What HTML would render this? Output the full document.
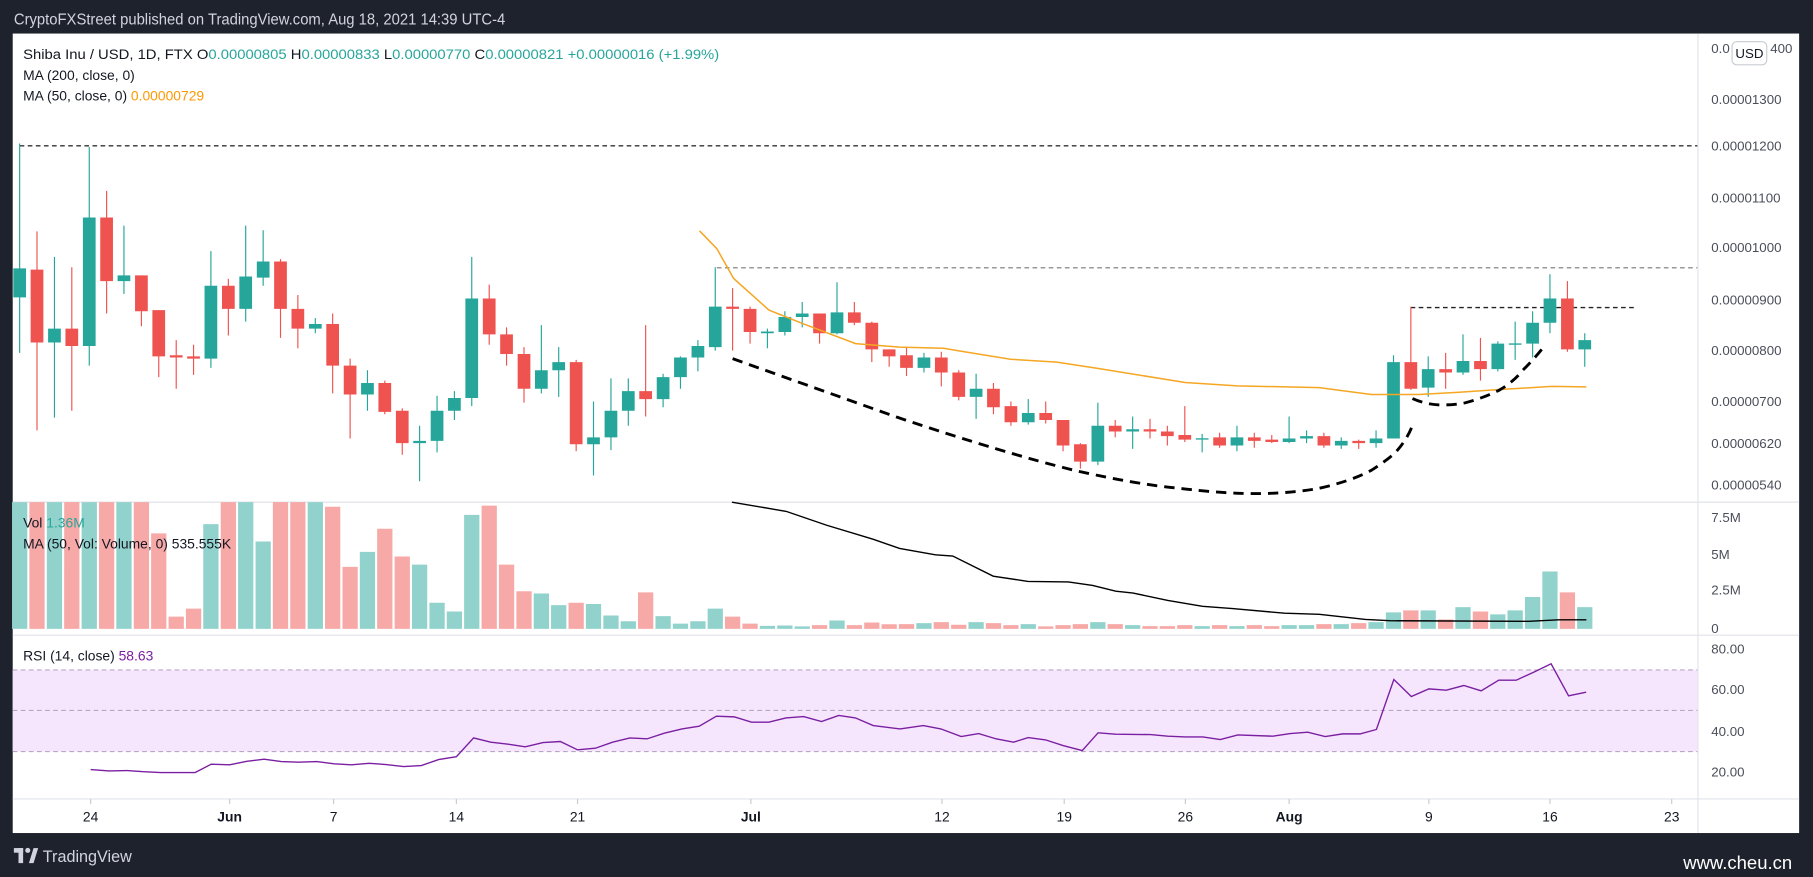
<!DOCTYPE html>
<html><head><meta charset="utf-8"><style>
html,body{margin:0;padding:0;background:#1e222d;overflow:hidden}
svg{display:block}
text{font-family:"Liberation Sans",sans-serif}
.ax{font-size:11.5px;fill:#4a4e59}
.xl{font-size:12px;fill:#131722;text-anchor:middle}
</style></head><body>
<svg width="1813" height="877" viewBox="0 0 1568 758" preserveAspectRatio="none" xmlns="http://www.w3.org/2000/svg">
<rect x="0" y="0" width="1568" height="758" fill="#1e222d"/>
<rect x="11" y="29" width="1545" height="691" fill="#ffffff"/>
<text x="12" y="21" font-size="13.5" fill="#d1d4dc" textLength="425" lengthAdjust="spacingAndGlyphs">CryptoFXStreet published on TradingView.com, Aug 18, 2021 14:39 UTC-4</text>

<line x1="11" y1="434" x2="1556" y2="434" stroke="#e0e3eb"/>
<line x1="11" y1="549" x2="1556" y2="549" stroke="#e0e3eb"/>
<line x1="11" y1="690.5" x2="1556" y2="690.5" stroke="#e0e3eb"/>
<line x1="1468.5" y1="29" x2="1468.5" y2="720" stroke="#e0e3eb"/>

<rect x="11" y="579" width="1457" height="70.6" fill="#f5e6fd"/>
<g stroke="#b8a7c4" stroke-dasharray="4 3" stroke-width="1">
<line x1="11" y1="579" x2="1468" y2="579"/>
<line x1="11" y1="614" x2="1468" y2="614"/>
<line x1="11" y1="649.6" x2="1468" y2="649.6"/>
</g>

<line x1="17" y1="126" x2="1468" y2="126" stroke="#333" stroke-dasharray="4 3" stroke-width="1.2"/>
<line x1="620" y1="231.5" x2="1468" y2="231.5" stroke="#777" stroke-dasharray="4 3" stroke-width="1"/>
<line x1="1220" y1="265.8" x2="1416" y2="265.8" stroke="#222" stroke-dasharray="4 3" stroke-width="1.2"/>

<!-- volume -->
<path fill="#92d2cc" d="M10.4 434h13.2V543.5h-13.2zM40.5 434h13.2V543.5h-13.2zM70.6 434h13.2V543.5h-13.2zM100.6 434h13.2V543.5h-13.2zM175.8 453h13.2V543.5h-13.2zM205.9 434h13.2V543.5h-13.2zM221 468h13.2V543.5h-13.2zM266.1 434h13.2V543.5h-13.2zM311.2 477h13.2V543.5h-13.2zM356.3 488h13.2V543.5h-13.2zM371.4 521h13.2V543.5h-13.2zM386.4 528.5h13.2V543.5h-13.2zM401.4 445h13.2V543.5h-13.2zM461.6 513h13.2V543.5h-13.2zM476.6 523h13.2V543.5h-13.2zM506.7 522h13.2V543.5h-13.2zM521.8 532h13.2V543.5h-13.2zM536.8 537h13.2V543.5h-13.2zM566.9 532.5h13.2V543.5h-13.2zM581.9 539h13.2V543.5h-13.2zM597 537h13.2V543.5h-13.2zM612 526h13.2V543.5h-13.2zM657.1 541h13.2V543.5h-13.2zM672.2 540.6h13.2V543.5h-13.2zM687.2 541.4h13.2V543.5h-13.2zM717.3 536.3h13.2V543.5h-13.2zM792.5 538.6h13.2V543.5h-13.2zM837.6 537.7h13.2V543.5h-13.2zM882.7 539.4h13.2V543.5h-13.2zM942.9 537.7h13.2V543.5h-13.2zM973 540.3h13.2V543.5h-13.2zM1033.1 541.2h13.2V543.5h-13.2zM1063.2 541.2h13.2V543.5h-13.2zM1108.3 540.3h13.2V543.5h-13.2zM1123.4 540.3h13.2V543.5h-13.2zM1153.4 539.4h13.2V543.5h-13.2zM1183.5 537.7h13.2V543.5h-13.2zM1198.6 529.3h13.2V543.5h-13.2zM1228.6 527.6h13.2V543.5h-13.2zM1258.7 524.7h13.2V543.5h-13.2zM1288.8 531h13.2V543.5h-13.2zM1303.8 527.6h13.2V543.5h-13.2zM1318.9 516h13.2V543.5h-13.2zM1333.9 494h13.2V543.5h-13.2zM1364 524.7h13.2V543.5h-13.2z"/>
<path fill="#f7a9a7" d="M25.4 434h13.2V543.5h-13.2zM55.5 434h13.2V543.5h-13.2zM85.6 434h13.2V543.5h-13.2zM115.7 434h13.2V543.5h-13.2zM130.7 461h13.2V543.5h-13.2zM145.8 533h13.2V543.5h-13.2zM160.8 526h13.2V543.5h-13.2zM190.9 434h13.2V543.5h-13.2zM236 434h13.2V543.5h-13.2zM251 434h13.2V543.5h-13.2zM281.1 438h13.2V543.5h-13.2zM296.2 490h13.2V543.5h-13.2zM326.2 457h13.2V543.5h-13.2zM341.3 481h13.2V543.5h-13.2zM416.5 437h13.2V543.5h-13.2zM431.5 488h13.2V543.5h-13.2zM446.6 511h13.2V543.5h-13.2zM491.7 521h13.2V543.5h-13.2zM551.8 512h13.2V543.5h-13.2zM627 533h13.2V543.5h-13.2zM642.1 539h13.2V543.5h-13.2zM702.2 540.3h13.2V543.5h-13.2zM732.3 540.3h13.2V543.5h-13.2zM747.4 538h13.2V543.5h-13.2zM762.4 539.5h13.2V543.5h-13.2zM777.4 539.4h13.2V543.5h-13.2zM807.5 537.7h13.2V543.5h-13.2zM822.6 540h13.2V543.5h-13.2zM852.6 538.6h13.2V543.5h-13.2zM867.7 540.3h13.2V543.5h-13.2zM897.8 541.4h13.2V543.5h-13.2zM912.8 540.3h13.2V543.5h-13.2zM927.8 539.4h13.2V543.5h-13.2zM957.9 539.4h13.2V543.5h-13.2zM988 541.2h13.2V543.5h-13.2zM1003 541.2h13.2V543.5h-13.2zM1018.1 540.3h13.2V543.5h-13.2zM1048.2 540.3h13.2V543.5h-13.2zM1078.2 540.3h13.2V543.5h-13.2zM1093.3 541.2h13.2V543.5h-13.2zM1138.4 539.4h13.2V543.5h-13.2zM1168.5 538.6h13.2V543.5h-13.2zM1213.6 527.6h13.2V543.5h-13.2zM1243.7 535.4h13.2V543.5h-13.2zM1273.8 528.5h13.2V543.5h-13.2zM1349 512h13.2V543.5h-13.2z"/>

<!-- candles green -->
<path stroke="#26a69a" stroke-width="1" fill="none" d="M17 124V305M47.1 222V361M77.2 127V316M107.2 195V254M182.4 217V318M212.5 195V278M227.6 199V247M272.7 275V288M317.8 320V355M362.9 368V416M378 342V391M393 338V363M408 222V351M468.2 281V340M483.2 300V343M513.3 347V411M528.4 327V389M543.4 327V368M573.5 323V352M588.5 308V336M603.6 294V321M618.6 231V303M663.7 284V301M678.8 269V290M693.8 261V283M723.9 244V289M799.1 305V322M844.2 323V362M889.3 345V367M949.5 348V402M979.6 360V388M1039.7 375V391M1069.8 368V390M1114.9 360V383M1130 372V383M1160 378V388M1190.1 372V387M1205.2 307V379M1235.2 308V343M1265.3 289V324M1295.4 295V321M1310.4 278V311M1325.5 269V309M1340.5 237V288M1370.6 288V317"/>
<path fill="#26a69a" d="M11.5 232h11V257h-11zM41.6 284h11V296h-11zM71.7 188h11V299h-11zM101.7 238h11V243h-11zM176.9 247h11V310h-11zM207 239h11V267h-11zM222.1 226h11V240h-11zM267.2 280h11V284h-11zM312.3 331h11V341h-11zM357.4 381h11V383h-11zM372.5 355h11V381h-11zM387.5 344h11V355h-11zM402.5 258h11V344h-11zM462.7 320h11V336h-11zM477.7 313h11V320h-11zM507.8 378h11V384h-11zM522.9 355h11V378h-11zM537.9 338h11V355h-11zM568 326h11V345h-11zM583 309h11V326h-11zM598.1 299h11V309h-11zM613.1 265h11V300h-11zM658.2 286.5h11V288h-11zM673.3 274h11V287h-11zM688.3 271h11V274h-11zM718.4 270h11V288h-11zM793.6 309h11V318h-11zM838.7 336h11V343h-11zM883.8 357h11V365h-11zM944 368h11V399h-11zM974.1 371h11V373h-11zM1034.2 378.8h11V380h-11zM1064.3 378h11V385h-11zM1109.4 379h11V382h-11zM1124.5 377h11V379h-11zM1154.5 381h11V385h-11zM1184.6 379h11V383h-11zM1199.7 313h11V379h-11zM1229.7 319h11V335h-11zM1259.8 312h11V322h-11zM1289.9 297h11V319h-11zM1304.9 296.8h11V298h-11zM1320 279h11V297h-11zM1335 258h11V279h-11zM1365.1 294h11V302h-11z"/>
<!-- candles red -->
<path stroke="#ef5350" stroke-width="1" fill="none" d="M32 200V372M62.1 231V355M92.2 165V271M122.3 238V282M137.3 268V326M152.4 294V336M167.4 298V324M197.5 241V290M242.6 224V292M257.6 255V301M287.7 271V340M302.8 310V379M332.8 329V358M347.9 353V393M423.1 246V298M438.1 283V316M453.2 300V348M498.3 311V390M558.4 281V360M633.6 249V303M648.7 265V297M708.8 271V297M738.9 261V281M754 278V313M769 302V317M784 300V325M814.1 304V334M829.2 320V346M859.2 331V358M874.3 347V368M904.4 347V366M919.4 363V390M934.4 383V405M964.5 363V378M994.6 362V379M1009.6 368V385M1024.7 351V382M1054.8 374V387M1084.8 374V387M1099.9 376V383M1145 374V387M1175.1 380V388M1220.2 265V337M1250.3 305V336M1280.4 292V329M1355.6 243V304"/>
<path fill="#ef5350" d="M26.5 233h11V296h-11zM56.6 284h11V299h-11zM86.7 188h11V243h-11zM116.8 238h11V269h-11zM131.8 268h11V308h-11zM146.9 307h11V309h-11zM161.9 308h11V310h-11zM192 247h11V267h-11zM237.1 226h11V267h-11zM252.1 267h11V284h-11zM282.2 280h11V316h-11zM297.3 316h11V341h-11zM327.3 331h11V356h-11zM342.4 355h11V383h-11zM417.6 258h11V289h-11zM432.6 289h11V306h-11zM447.7 306h11V336h-11zM492.8 313h11V384h-11zM552.9 338h11V345h-11zM628.1 265h11V267h-11zM643.2 267h11V287h-11zM703.3 271h11V288h-11zM733.4 270h11V279h-11zM748.5 279h11V302h-11zM763.5 302h11V308h-11zM778.5 307h11V318h-11zM808.6 309h11V322h-11zM823.7 322h11V343h-11zM853.7 336h11V352h-11zM868.8 351h11V365h-11zM898.9 357h11V363h-11zM913.9 363h11V385h-11zM928.9 384h11V399h-11zM959 368h11V373h-11zM989.1 371h11V373h-11zM1004.1 373h11V377h-11zM1019.2 376h11V380h-11zM1049.3 378h11V385h-11zM1079.3 378h11V381h-11zM1094.4 380h11V382h-11zM1139.5 377h11V385h-11zM1169.6 381h11V383h-11zM1214.7 313h11V336h-11zM1244.8 319h11V322h-11zM1274.9 312h11V319h-11zM1350.1 258h11V302h-11z"/>

<polyline fill="none" stroke="#f5a623" stroke-width="1.3" points="605,199.5 620,215 634.5,240.7 665,268 695,280 740,297 778,300 816,301 834,304 874,310.5 914,313 950,318.5 1025,330.6 1070,333.5 1141,335 1186,341 1227,341 1262,339 1292,337 1342,334 1372,334.4"/>

<path fill="none" stroke="#000" stroke-width="2.5" stroke-dasharray="9 6" d="M633.6,310 L777,361 Q870,392 929,406.5 Q985,419 1020,422 Q1060,427 1091,426.6 Q1120,426 1141,422 Q1168,416 1186,406.5 Q1198,399 1206.5,391.5 Q1217,380 1221.6,367.6"/>
<path fill="none" stroke="#000" stroke-width="2.5" stroke-dasharray="9 6" d="M1221.6,344.5 Q1234,350 1247,350 Q1258,350 1267,348.2 Q1283,344 1297,337 Q1309,330 1317,320 Q1327,310 1335,300"/>

<polyline fill="none" stroke="#000" stroke-width="1.2" points="633,434 680,442 715,454 755,466 778,474 809,479.5 824,480.6 859,498 889,502.5 924,503 945,506 965,511 980,512.6 1010,519 1040,524 1066,526 1111,530 1141,531 1181,535.4 1202,536.5 1322,537 1348,535.7 1372,535.7"/>

<polyline fill="none" stroke="#7b1fa2" stroke-width="1.2" points="78.4,665.1 94.3,666.3 110,666 124,667 139,667.7 168.8,667.7 182.7,660.5 198.6,661 213.5,658 228.4,656.2 243.3,658.2 258.2,658.8 274,658.2 289,660.2 303.9,661 319.2,659.7 334,660.8 349,662.5 364.4,661.7 379.3,656.5 394.7,654 409.6,637.8 424.5,641.5 439.4,643.2 454.3,645.5 469.7,641.8 484.6,640.9 499.5,648.1 514.9,646.7 529.8,641.5 544.7,637.8 559.6,638.6 574.5,633.7 589.8,630 604.7,627.7 619.6,619 635,619.6 650,624.2 664.8,624.2 679.7,620.5 695,619.3 710.5,623.6 725.4,618.4 739.8,620.5 755.2,627.1 778.4,630 798.5,627.1 813.7,630 831.3,636.6 846.4,634 861.5,638.6 876.6,641.5 889.2,637.5 904.3,639.5 919.4,644.4 936,648.7 949.7,633.4 964.8,634.6 995,634.9 1010,636.3 1025.2,636.9 1040.3,636.9 1055.4,639.2 1070.5,635.2 1100.8,636.3 1115.9,634 1131,632.8 1146.1,636.6 1161.2,634.3 1176.3,634.3 1190.4,630.5 1205.5,587.3 1220.6,602 1235.8,595.4 1250.9,596.5 1266,592.5 1281,597.1 1296.2,587.9 1311.3,587.9 1326.4,581 1341.5,573.7 1356.6,601.4 1371.8,598.3"/>

<text x="20" y="51" font-size="12" fill="#131722" textLength="602" lengthAdjust="spacingAndGlyphs">Shiba Inu / USD, 1D, FTX  O<tspan fill="#26a69a">0.00000805</tspan>  H<tspan fill="#26a69a">0.00000833</tspan>  L<tspan fill="#26a69a">0.00000770</tspan>  C<tspan fill="#26a69a">0.00000821</tspan>  <tspan fill="#26a69a">+0.00000016 (+1.99%)</tspan></text>
<text x="20" y="69" font-size="12" fill="#131722">MA (200, close, 0)</text>
<text x="20" y="87" font-size="12" fill="#131722">MA (50, close, 0)  <tspan fill="#ff9800">0.00000729</tspan></text>
<text x="20" y="456" font-size="12" fill="#131722">Vol  <tspan fill="#26a69a">1.36M</tspan></text>
<text x="20" y="474" font-size="12" fill="#131722">MA (50, Vol: Volume, 0)  535.555K</text>
<text x="20" y="571" font-size="12" fill="#131722">RSI (14, close)  <tspan fill="#7b1fa2">58.63</tspan></text>

<g class="ax">
<text x="1480" y="46">0.0</text>
<text x="1531" y="46">400</text>
<text x="1480" y="90">0.00001300</text>
<text x="1480" y="130">0.00001200</text>
<text x="1480" y="175">0.00001100</text>
<text x="1480" y="218">0.00001000</text>
<text x="1480" y="263">0.00000900</text>
<text x="1480" y="307">0.00000800</text>
<text x="1480" y="351">0.00000700</text>
<text x="1480" y="387">0.00000620</text>
<text x="1480" y="423">0.00000540</text>
<text x="1480" y="451">7.5M</text>
<text x="1480" y="483">5M</text>
<text x="1480" y="514">2.5M</text>
<text x="1480" y="547">0</text>
<text x="1480" y="565">80.00</text>
<text x="1480" y="600">60.00</text>
<text x="1480" y="636">40.00</text>
<text x="1480" y="671">20.00</text>
</g>
<rect x="1498" y="36" width="30" height="20" rx="4" fill="#fff" stroke="#c8cbd3"/>
<text x="1513" y="50" font-size="11.5" fill="#131722" text-anchor="middle">USD</text>

<g stroke="#c8cbd3">
<line x1="78.4" y1="690.5" x2="78.4" y2="695"/><line x1="198.6" y1="690.5" x2="198.6" y2="695"/><line x1="288.5" y1="690.5" x2="288.5" y2="695"/><line x1="394.7" y1="690.5" x2="394.7" y2="695"/><line x1="499.5" y1="690.5" x2="499.5" y2="695"/><line x1="649.4" y1="690.5" x2="649.4" y2="695"/><line x1="814.7" y1="690.5" x2="814.7" y2="695"/><line x1="920.4" y1="690.5" x2="920.4" y2="695"/><line x1="1025.2" y1="690.5" x2="1025.2" y2="695"/><line x1="1114.9" y1="690.5" x2="1114.9" y2="695"/><line x1="1235.8" y1="690.5" x2="1235.8" y2="695"/><line x1="1340.5" y1="690.5" x2="1340.5" y2="695"/><line x1="1445.8" y1="690.5" x2="1445.8" y2="695"/>
</g>
<g class="xl">
<text x="78.4" y="710">24</text><text x="198.6" y="710" font-weight="bold">Jun</text><text x="288.5" y="710">7</text><text x="394.7" y="710">14</text><text x="499.5" y="710">21</text><text x="649.4" y="710" font-weight="bold">Jul</text><text x="814.7" y="710">12</text><text x="920.4" y="710">19</text><text x="1025.2" y="710">26</text><text x="1114.9" y="710" font-weight="bold">Aug</text><text x="1235.8" y="710">9</text><text x="1340.5" y="710">16</text><text x="1445.8" y="710">23</text>
</g>

<rect x="12" y="733" width="8" height="4" fill="#d1d4dc"/><rect x="16" y="733" width="4" height="13" fill="#d1d4dc"/><circle cx="24" cy="735" r="2.2" fill="#d1d4dc"/><path d="M25,746 L29,733 L33,733 L29,746 Z" fill="#d1d4dc"/>
<text x="37" y="745" font-size="14" fill="#d1d4dc">TradingView</text>
<text x="1550" y="751" font-size="16" fill="#ffffff" text-anchor="end">www.cheu.cn</text>
</svg>
</body></html>
